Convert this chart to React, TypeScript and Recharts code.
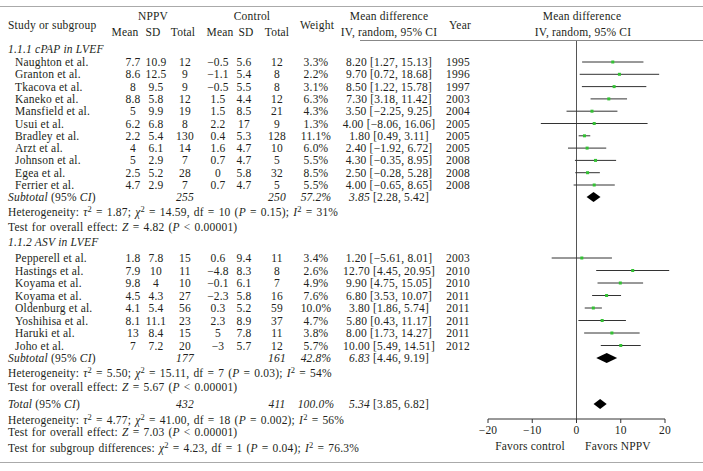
import React from 'react';
import { ScatterChart, Scatter, XAxis, YAxis, ErrorBar, ReferenceLine } from 'recharts';

// 1.1.1 cPAP in LVEF
const cpapStudies = ['Naughton et al.', 'Granton et al.', 'Tkacova et al.', 'Kaneko et al.', 'Mansfield et al.', 'Usui et al.', 'Bradley et al.', 'Arzt et al.', 'Johnson et al.', 'Egea et al.', 'Ferrier et al.'];
const cpapNppvMean = [7.7, 8.6, 8, 8.8, 5, 6.2, 2.2, 4, 5, 2.5, 4.7];
const cpapNppvSd = [10.9, 12.5, 9.5, 5.8, 9.9, 6.8, 5.4, 6.1, 2.9, 5.2, 2.9];
const cpapNppvN = [12, 9, 9, 12, 19, 8, 130, 14, 7, 28, 7];
const cpapCtrlMean = [-0.5, -1.1, -0.5, 1.5, 1.5, 2.2, 0.4, 1.6, 0.7, 0, 0.7];
const cpapCtrlSd = [5.6, 5.4, 5.5, 4.4, 8.5, 17, 5.3, 4.7, 4.7, 5.8, 4.7];
const cpapCtrlN = [12, 8, 8, 12, 21, 9, 128, 10, 5, 32, 5];
const cpapWeight = [3.3, 2.2, 3.1, 6.3, 4.3, 1.3, 11.1, 6.0, 5.5, 8.5, 5.5];
const cpapMd = [8.2, 9.7, 8.5, 7.3, 3.5, 4.0, 1.8, 2.4, 4.3, 2.5, 4.0];
const cpapLo = [1.27, 0.72, 1.22, 3.18, -2.25, -8.06, 0.49, -1.92, -0.35, -0.28, -0.65];
const cpapHi = [15.13, 18.68, 15.78, 11.42, 9.25, 16.06, 3.11, 6.72, 8.95, 5.28, 8.65];
const cpapYears = [1995, 1996, 1997, 2003, 2004, 2005, 2005, 2005, 2008, 2008, 2008];

// 1.1.2 ASV in LVEF
const asvStudies = ['Pepperell et al.', 'Hastings et al.', 'Koyama et al.', 'Koyama et al.', 'Oldenburg et al.', 'Yoshihisa et al.', 'Haruki et al.', 'Joho et al.'];
const asvNppvMean = [1.8, 7.9, 9.8, 4.5, 4.1, 8.1, 13, 7];
const asvNppvSd = [7.8, 10, 4, 4.3, 5.4, 11.1, 8.4, 7.2];
const asvNppvN = [15, 11, 10, 27, 56, 23, 15, 20];
const asvCtrlMean = [0.6, -4.8, -0.1, -2.3, 0.3, 2.3, 5, -3];
const asvCtrlSd = [9.4, 8.3, 6.1, 5.8, 5.2, 8.9, 7.8, 5.7];
const asvCtrlN = [11, 8, 7, 16, 59, 37, 11, 12];
const asvWeight = [3.4, 2.6, 4.9, 7.6, 10.0, 4.7, 3.8, 5.7];
const asvMd = [1.2, 12.7, 9.9, 6.8, 3.8, 5.8, 8.0, 10.0];
const asvLo = [-5.61, 4.45, 4.75, 3.53, 1.86, 0.43, 1.73, 5.49];
const asvHi = [8.01, 20.95, 15.05, 10.07, 5.74, 11.17, 14.27, 14.51];
const asvYears = [2003, 2010, 2010, 2011, 2011, 2011, 2011, 2012];

// pooled estimates: cPAP subtotal, ASV subtotal, total
const pooledLabel = ['Subtotal', 'Subtotal', 'Total'];
const pooledNppvN = [255, 177, 432];
const pooledCtrlN = [250, 161, 411];
const pooledWeight = [57.2, 42.8, 100.0];
const pooledMd = [3.85, 6.83, 5.34];
const pooledLo = [2.28, 4.46, 3.85];
const pooledHi = [5.42, 9.19, 6.82];

// heterogeneity / overall effect statistics
const hetTau2 = ['1.87', '5.50', '4.77'];
const hetChi2 = ['14.59', '15.11', '41.00'];
const hetDf = [10, 7, 18];
const hetP = ['0.15', '0.03', '0.002'];
const hetI2 = ['31', '54', '56'];
const overallZ = ['4.82', '5.67', '7.03'];
const subgroupDiff = { chi2: '4.23', df: 1, p: '0.04', i2: '76.3' };

const xTicks = [-20, -10, 0, 10, 20];

const W = 703;
const H = 471;
const FONT = "'Liberation Serif', 'Times New Roman', serif";
const FS = 11.5;
const LS = 0.2;
const INK = '#231f20';
const GREEN = '#33c133';

// row centres (px)
const ROWS = {
  g1Head: 49, g1Start: 62, g1Step: 12.3, g1Sub: 197,
  het1: 212, test1: 227,
  g2Head: 242, g2Start: 258, g2Step: 12.5, g2Sub: 358,
  het2: 373, test2: 387,
  total: 404, het3: 420, test3: 432, subgroup: 448,
};

const COLS = { name: 15, nMean: 133, nSd: 156, nN: 185, cMean: 218, cSd: 244, cN: 277, weight: 316, md: 389, year: 458 };

const minus = (v: number | string) => String(v).replace('-', '\u2212');
const f2 = (v: number) => minus(v.toFixed(2));

type Study = {
  name: string; nMean: number; nSd: number; nN: number; cMean: number; cSd: number; cN: number;
  weight: number; md: number; lo: number; hi: number; year: number; y: number;
};

const buildGroup = (names: string[], nm: number[], ns: number[], nn: number[], cm: number[], cs: number[], cn: number[],
  w: number[], md: number[], lo: number[], hi: number[], yr: number[], start: number, step: number): Study[] =>
  names.map((name, i) => ({
    name, nMean: nm[i], nSd: ns[i], nN: nn[i], cMean: cm[i], cSd: cs[i], cN: cn[i],
    weight: w[i], md: md[i], lo: lo[i], hi: hi[i], year: yr[i], y: start + i * step,
  }));

const cpap = buildGroup(cpapStudies, cpapNppvMean, cpapNppvSd, cpapNppvN, cpapCtrlMean, cpapCtrlSd, cpapCtrlN,
  cpapWeight, cpapMd, cpapLo, cpapHi, cpapYears, ROWS.g1Start, ROWS.g1Step);
const asv = buildGroup(asvStudies, asvNppvMean, asvNppvSd, asvNppvN, asvCtrlMean, asvCtrlSd, asvCtrlN,
  asvWeight, asvMd, asvLo, asvHi, asvYears, ROWS.g2Start, ROWS.g2Step);
const allStudies = [...cpap, ...asv];

const studyPoints = allStudies.map((s) => ({ x: s.md, y: s.y, err: [s.md - s.lo, s.hi - s.md] }));
const pooledRows = [ROWS.g1Sub, ROWS.g2Sub, ROWS.total];
const diamonds = pooledMd.map((m, i) => [
  { x: pooledLo[i], y: pooledRows[i] },
  { x: m, y: pooledRows[i] - 5 },
  { x: pooledHi[i], y: pooledRows[i] },
  { x: m, y: pooledRows[i] + 5 },
]);

// tiny markup: _italic_ and ^superscript^
function Rich({ x, y, s, anchor = 'start', ws }: { x: number; y: number; s: string; anchor?: 'start' | 'middle' | 'end'; ws?: number }) {
  const parts = s.split(/(_[^_]+_|\^[^^]+\^)/).filter((p) => p.length > 0);
  let up = false;
  return (
    <text x={x} y={y + 4} textAnchor={anchor} fontFamily={FONT} fontSize={FS} letterSpacing={LS} wordSpacing={ws} fill={INK}>
      {parts.map((p, k) => {
        const isSup = p.startsWith('^');
        const isIt = p.startsWith('_');
        const t = isSup || isIt ? p.slice(1, -1) : p;
        let dy: number | undefined;
        if (isSup && !up) { dy = -4.5; up = true; }
        else if (!isSup && up) { dy = 4.5; up = false; }
        return (
          <tspan key={k} dy={dy} fontStyle={isIt ? 'italic' : undefined} fontSize={isSup ? 8.5 : undefined}>{t}</tspan>
        );
      })}
    </text>
  );
}

const hetLine = (i: number) =>
  `Heterogeneity: _τ_^2^ = ${hetTau2[i]}; _χ_^2^ = ${hetChi2[i]}, df = ${hetDf[i]} (_P_ = ${hetP[i]}); _I_^2^ = ${hetI2[i]}%`;
const testLine = (i: number) => `Test for overall effect: _Z_ = ${overallZ[i]} (_P_ < 0.00001)`;

function StudyRow({ s }: { s: Study }) {
  return (
    <g>
      <Rich x={COLS.name} y={s.y} s={s.name} />
      <Rich x={COLS.nMean} y={s.y} s={minus(s.nMean)} anchor="middle" />
      <Rich x={COLS.nSd} y={s.y} s={minus(s.nSd)} anchor="middle" />
      <Rich x={COLS.nN} y={s.y} s={String(s.nN)} anchor="middle" />
      <Rich x={COLS.cMean} y={s.y} s={minus(s.cMean)} anchor="middle" />
      <Rich x={COLS.cSd} y={s.y} s={minus(s.cSd)} anchor="middle" />
      <Rich x={COLS.cN} y={s.y} s={String(s.cN)} anchor="middle" />
      <Rich x={COLS.weight} y={s.y} s={`${s.weight.toFixed(1)}%`} anchor="middle" />
      <Rich x={COLS.md} y={s.y} s={`${f2(s.md)} [${f2(s.lo)}, ${f2(s.hi)}]`} anchor="middle" />
      <Rich x={COLS.year} y={s.y} s={String(s.year)} anchor="middle" />
    </g>
  );
}

function PooledRow({ i }: { i: number }) {
  const y = pooledRows[i];
  return (
    <g>
      <Rich x={8} y={y} s={`_${pooledLabel[i]}_ (95% _CI_)`} />
      <Rich x={COLS.nN} y={y} s={`_${pooledNppvN[i]}_`} anchor="middle" />
      <Rich x={COLS.cN} y={y} s={`_${pooledCtrlN[i]}_`} anchor="middle" />
      <Rich x={COLS.weight} y={y} s={`_${pooledWeight[i].toFixed(1)}%_`} anchor="middle" />
      <Rich x={COLS.md} y={y} s={`_${f2(pooledMd[i])}_ [${f2(pooledLo[i])}, ${f2(pooledHi[i])}]`} anchor="middle" />
    </g>
  );
}

const Square = (p: any) => <rect x={p.cx - 1.5} y={p.cy - 1.5} width={3} height={3} fill={GREEN} />;
const Hidden = () => <g />;
const DiamondShape = (p: any) => (
  <polygon points={(p.points || []).map((pt: any) => `${pt.x},${pt.y}`).join(' ')} fill="#000" stroke="none" />
);

export default function App() {
  return (
    <div style={{ position: 'absolute', left: 0, top: 0, width: W, height: H, background: '#fff' }}>
      <ScatterChart width={W} height={H} margin={{ top: 40, right: 38, bottom: 22, left: 488 }}>
        <XAxis
          type="number"
          dataKey="x"
          domain={[-20, 20]}
          ticks={xTicks}
          interval={0}
          allowDataOverflow
          height={30}
          stroke="#333"
          tickSize={4}
          tickMargin={3}
          tickFormatter={(v) => minus(v)}
          tick={{ fill: INK, fontSize: FS, fontFamily: FONT, letterSpacing: LS }}
        />
        <YAxis type="number" dataKey="y" domain={[40, 419]} reversed hide allowDataOverflow />
        <ReferenceLine x={0} stroke="#555" strokeWidth={1} />
        <Scatter data={studyPoints} shape={Hidden} isAnimationActive={false}>
          <ErrorBar dataKey="err" direction="x" width={0} stroke="#333" strokeWidth={1} isAnimationActive={false} />
        </Scatter>
        <Scatter data={studyPoints} shape={Square} isAnimationActive={false} />
        {diamonds.map((d, i) => (
          <Scatter key={i} data={d} shape={Hidden} line={DiamondShape} isAnimationActive={false} />
        ))}
      </ScatterChart>
      <svg width={W} height={H} style={{ position: 'absolute', left: 0, top: 0, pointerEvents: 'none' }}>
        <line x1={0} x2={W} y1={6.5} y2={6.5} stroke="#aaa" />
        <line x1={360} x2={W} y1={40.5} y2={40.5} stroke="#888" />
        <line x1={0} x2={W} y1={462.5} y2={462.5} stroke="#aaa" />

        <Rich x={8} y={25} s="Study or subgroup" />
        <Rich x={153} y={16} s="NPPV" anchor="middle" />
        <Rich x={252} y={16} s="Control" anchor="middle" />
        <Rich x={125} y={32} s="Mean" anchor="middle" />
        <Rich x={153} y={32} s="SD" anchor="middle" />
        <Rich x={183} y={32} s="Total" anchor="middle" />
        <Rich x={220} y={32} s="Mean" anchor="middle" />
        <Rich x={246} y={32} s="SD" anchor="middle" />
        <Rich x={277} y={32} s="Total" anchor="middle" />
        <Rich x={317} y={25} s="Weight" anchor="middle" />
        <Rich x={389} y={16} s="Mean difference" anchor="middle" />
        <Rich x={389} y={32} s="IV, random, 95% CI" anchor="middle" />
        <Rich x={460} y={25} s="Year" anchor="middle" />
        <Rich x={582} y={16} s="Mean difference" anchor="middle" />
        <Rich x={583} y={32} s="IV, random, 95% CI" anchor="middle" />

        <Rich x={8} y={ROWS.g1Head} s="_1.1.1 cPAP in LVEF_" />
        {cpap.map((s, i) => <StudyRow key={`c${i}`} s={s} />)}
        <PooledRow i={0} />
        <Rich x={8} y={ROWS.het1} s={hetLine(0)} ws={1} />
        <Rich x={8} y={ROWS.test1} s={testLine(0)} ws={1} />

        <Rich x={8} y={ROWS.g2Head} s="_1.1.2 ASV in LVEF_" />
        {asv.map((s, i) => <StudyRow key={`a${i}`} s={s} />)}
        <PooledRow i={1} />
        <Rich x={8} y={ROWS.het2} s={hetLine(1)} ws={1} />
        <Rich x={8} y={ROWS.test2} s={testLine(1)} ws={1} />

        <PooledRow i={2} />
        <Rich x={8} y={ROWS.het3} s={hetLine(2)} ws={1} />
        <Rich x={8} y={ROWS.test3} s={testLine(2)} ws={1} />
        <Rich
          x={8}
          y={ROWS.subgroup}
          ws={1}
          s={`Test for subgroup differences: _χ_^2^ = ${subgroupDiff.chi2}, df = ${subgroupDiff.df} (_P_ = ${subgroupDiff.p}); _I_^2^ = ${subgroupDiff.i2}%`}
        />

        <Rich x={530} y={446} s="Favors control" anchor="middle" />
        <Rich x={618} y={446} s="Favors NPPV" anchor="middle" />
      </svg>
    </div>
  );
}
